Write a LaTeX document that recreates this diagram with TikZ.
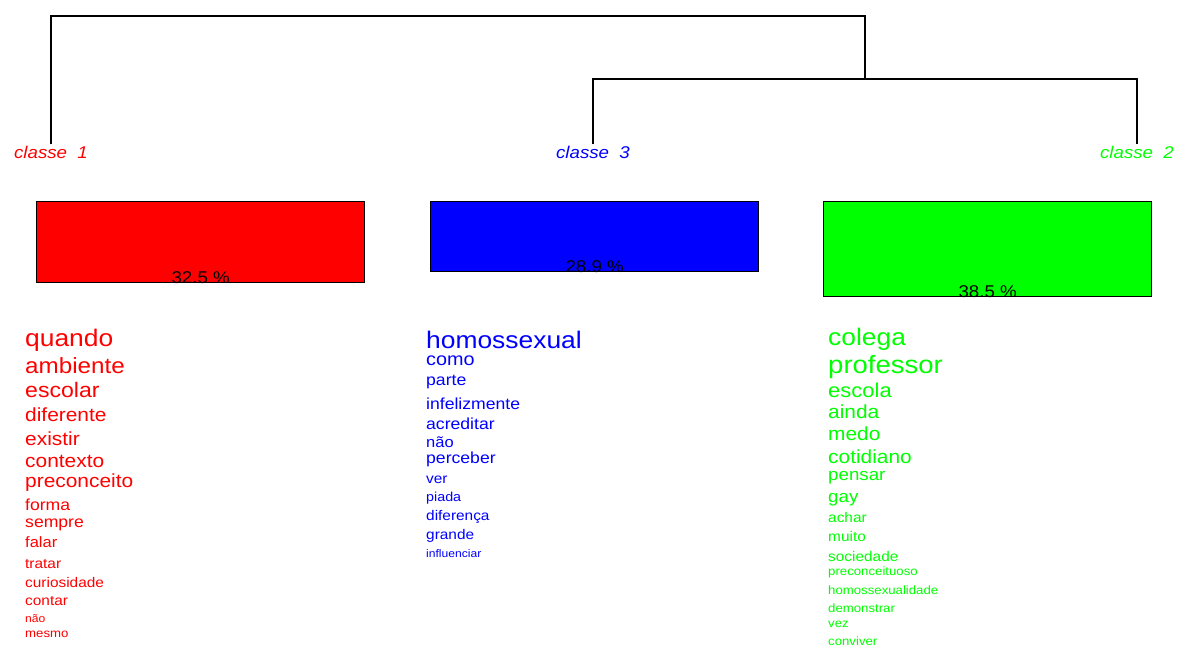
\documentclass[tikz,border=0pt]{standalone}
\usepackage{fontspec}
\setmainfont[FakeStretch=1.1]{Liberation Sans}
\usetikzlibrary{positioning}
\definecolor{cls1}{RGB}{255,0,0}
\definecolor{cls2}{RGB}{0,255,0}
\definecolor{cls3}{RGB}{0,0,255}
\begin{document}
\begin{tikzpicture}[x=1pt, y=-1pt,
    dendro/.style={line width=1.2pt, black},
    clsbox/.style={draw=black, line width=1.3pt, minimum width=328pt, anchor=north west, inner sep=0pt},
    pct/.style={anchor=base, inner sep=0pt, font=\fontsize{17}{17}\selectfont},
    leaf/.style={anchor=base, inner sep=1pt, font=\fontsize{17}{17}\selectfont\itshape},
    word/.style={anchor=base west, inner sep=0pt}
]
\useasboundingbox (0,0) rectangle (1177,648);

\node[leaf, text=cls1] (c1) at (51,158) {classe\ \ 1};
\node[leaf, text=cls3] (c3) at (593,158) {classe\ \ 3};
\node[leaf, text=cls2] (c2) at (1137,158) {classe\ \ 2};

\coordinate (m23) at (865,79);
\coordinate (root) at (865,16);
\draw[dendro] (c1.north) |- (root) -- (m23);
\draw[dendro] (c3.north) |- (m23) -| (c2.north);

\node[clsbox, fill=cls1, minimum height=81pt] (b1) at (36,201) {};
\node[clsbox, fill=cls3, minimum height=70pt] (b3) at (430,201) {};
\node[clsbox, fill=cls2, minimum height=95pt] (b2) at (823,201) {};

\node[pct] (p1) at (b1.south) {32.5 \%};
\node[pct] (p3) at (b3.south) {28.9 \%};
\node[pct] (p2) at (b2.south) {38.5 \%};

\foreach \w/\sz/\y [count=\i] in {quando/24/346, ambiente/22/373, escolar/21/397,
    diferente/19/421, existir/19/445, contexto/19/467, preconceito/19/487,
    forma/16/510, sempre/16/527, falar/15/547, tratar/14/568, curiosidade/14/587,
    contar/14/605, não/11/622, mesmo/12/637}
  \node[word, text=cls1, font=\fontsize{\sz}{\sz}\selectfont] (w1-\i) at (25,\y) {\w};

\foreach \w/\sz/\y [count=\i] in {homossexual/24/348, como/18/365, parte/16/385,
    infelizmente/16/409, acreditar/16/429, não/15/447, perceber/16/463,
    ver/14/483, piada/13/501, diferença/14/520, grande/14/539, influenciar/11/557}
  \node[word, text=cls3, font=\fontsize{\sz}{\sz}\selectfont] (w3-\i) at (426,\y) {\w};

\foreach \w/\sz/\y [count=\i] in {colega/24/345, professor/25/373, escola/20/397,
    ainda/19/418, medo/19/440, cotidiano/19/463, pensar/17/480, gay/17/502,
    achar/14/522, muito/14/541, sociedade/14/561, preconceituoso/12/575,
    homossexualidade/12/594, demonstrar/12/612, vez/12/627, conviver/12/645}
  \node[word, text=cls2, font=\fontsize{\sz}{\sz}\selectfont] (w2-\i) at (828,\y) {\w};
\end{tikzpicture}
\end{document}
